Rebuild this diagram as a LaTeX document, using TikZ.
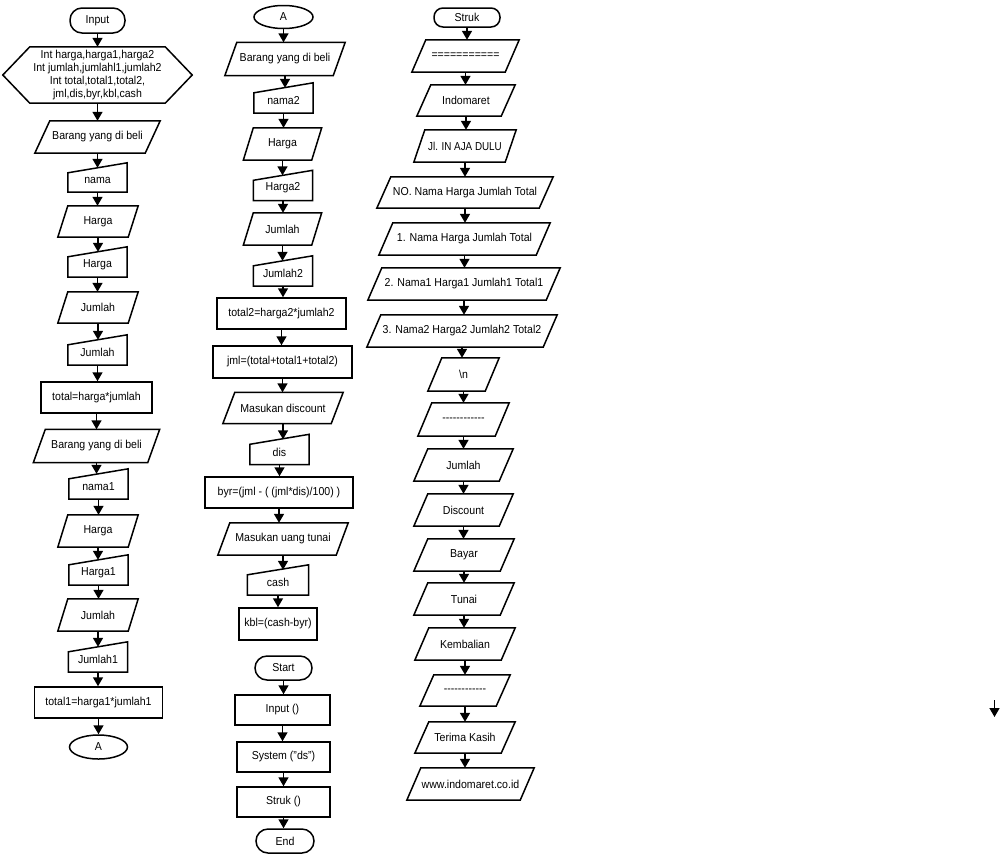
\documentclass[tikz,border=0pt]{standalone}
\usepackage{fontspec}
\setmainfont{Liberation Sans}[FakeStretch=0.92]
\usetikzlibrary{arrows.meta,shapes.geometric}
\tikzset{
  base/.style={inner sep=0pt, font=\fontsize{11.5}{13}\selectfont, align=center},
  shp/.style={line width=1.5pt, line join=miter},
  proc/.style={base, draw, line width=1.5pt},
  term/.style={base, draw, line width=1.5pt, rounded corners=12pt},
  conn/.style={base, draw, line width=1.5pt, ellipse},
  arr/.style={line width=1.5pt, -{Triangle[width=10pt,length=9pt]}},
}
\newcommand\Para[7][12]{%
  \node[base, minimum width=#5pt, minimum height=#6pt] (#2) at (#3,#4) {#7};
  \draw[shp] ([xshift=#1pt]#2.north west) -- (#2.north east) -- ([xshift=-#1pt]#2.south east) -- (#2.south west) -- cycle;}
\newcommand\Manual[6]{%
  \node[base, minimum width=#4pt, minimum height={(#5-5)*1pt}] (#1) at (#2,{#3+2.5}) {#6};
  \draw[shp] ([yshift=-5pt]#1.north west) -- ([yshift=5pt]#1.north east) -- (#1.south east) -- (#1.south west) -- cycle;}
\newcommand\Hexa[7]{%
  \node[base, minimum width=#4pt, minimum height=#5pt] (#1) at (#2,#3) {#7};
  \draw[shp] (#1.west) -- ([xshift=#6pt]#1.north west) -- ([xshift=-#6pt]#1.north east) -- (#1.east) -- ([xshift=-#6pt]#1.south east) -- ([xshift=#6pt]#1.south west) -- cycle;}
\newcommand\Arr[2]{\draw[arr] (#1.south) -- (#1.south |- #2.north);}
\newcommand\dd{-\kern0pt}
\newcommand\dashrow{\dd\dd\dd\dd\dd\dd\dd\dd\dd\dd\dd\dd}
\begin{document}
\begin{tikzpicture}[x=1pt,y=-1pt]
\useasboundingbox (0,0) rectangle (1000,857);
% ---------------- column 1
\node[term, minimum width=55pt, minimum height=25pt] (in1) at (97.5,20.5) {Input};
\Hexa{hex}{97.5}{75}{189}{56}{27}{Int harga,harga1,harga2\\Int jumlah,jumlahl1,jumlah2\\Int total,total1,total2,\\jml,dis,byr,kbl,cash}
\Para[15]{b1}{97.5}{137}{125}{32}{Barang yang di beli}
\Manual{nama}{97.5}{177.5}{59}{29}{nama}
\Para[10]{h1}{98}{221.5}{80}{31}{Harga}
\Manual{hm1}{97.5}{262}{59}{30}{Harga}
\Para[10]{j1}{98}{307.5}{80}{31}{Jumlah}
\Manual{jm1}{97.5}{350}{59}{30}{Jumlah}
\node[proc, minimum width=111pt, minimum height=31pt] (t1) at (96.5,397.5) {total=harga*jumlah};
\Para[12]{b2}{96.5}{446}{126}{33}{Barang yang di beli}
\Manual{nama1}{98.5}{484}{59}{30}{nama1}
\Para[10]{h2}{98}{531}{80}{32}{Harga}
\Manual{hm2}{98.5}{570}{59}{30}{Harga1}
\Para[10]{j2}{98}{615}{80}{32}{Jumlah}
\Manual{jm2}{98}{657}{59}{30}{Jumlah1}
\node[proc, minimum width=128pt, minimum height=31pt] (t1b) at (98.5,702.5) {total1=harga1*jumlah1};
\node[conn, minimum width=58pt, minimum height=24pt] (A1) at (98.5,747) {A};
\Arr{in1}{hex}\Arr{hex}{b1}\Arr{b1}{nama}\Arr{nama}{h1}\Arr{h1}{hm1}\Arr{hm1}{j1}\Arr{j1}{jm1}\Arr{jm1}{t1}
\Arr{t1}{b2}\Arr{b2}{nama1}\Arr{nama1}{h2}\Arr{h2}{hm2}\Arr{hm2}{j2}\Arr{j2}{jm2}\Arr{jm2}{t1b}\Arr{t1b}{A1}
% ---------------- column 2
\node[conn, minimum width=59pt, minimum height=23pt] (A2) at (283.5,17) {A};
\Para[12]{c2b}{285}{59}{120}{33}{Barang yang di beli}
\Manual{nama2}{283.5}{98}{59}{30}{nama2}
\Para[10]{ha2}{282.5}{144}{78}{32}{Harga}
\Manual{hm3}{283}{185.5}{59}{30}{Harga2}
\Para[10]{ja2}{282.5}{229}{78}{32}{Jumlah}
\Manual{jm3}{283}{271}{59}{30}{Jumlah2}
\node[proc, minimum width=129pt, minimum height=31pt] (t2) at (281.5,313.5) {total2=harga2*jumlah2};
\node[proc, minimum width=139pt, minimum height=32pt] (jml) at (282.5,362) {jml=(total+total1+total2)};
\Para[12]{md}{283}{408}{120}{31}{Masukan discount}
\Manual{dis}{279.5}{449.5}{59}{30}{dis}
\node[proc, minimum width=148pt, minimum height=31pt] (byr) at (279,492.5) {byr=(jml - ( (jml*dis)/100) )};
\Para[12]{mut}{283}{539}{130}{32}{Masukan uang tunai}
\Manual{cash}{278}{580}{61}{30}{cash}
\node[proc, minimum width=78pt, minimum height=32pt] (kbl) at (278,624) {kbl=(cash-byr)};
\Arr{A2}{c2b}\Arr{c2b}{nama2}\Arr{nama2}{ha2}\Arr{ha2}{hm3}\Arr{hm3}{ja2}\Arr{ja2}{jm3}\Arr{jm3}{t2}
\Arr{t2}{jml}\Arr{jml}{md}\Arr{md}{dis}\Arr{dis}{byr}\Arr{byr}{mut}\Arr{mut}{cash}\Arr{cash}{kbl}
% main
\node[term, minimum width=57pt, minimum height=24pt] (start) at (283.5,668) {Start};
\node[proc, minimum width=95pt, minimum height=30pt] (inp) at (282.5,710) {Input ()};
\node[proc, minimum width=93pt, minimum height=30pt] (sys) at (283.5,757) {System ("ds")};
\node[proc, minimum width=93pt, minimum height=30pt] (stk) at (283.5,802) {Struk ()};
\node[term, minimum width=58pt, minimum height=24pt] (end) at (285,841) {End};
\Arr{start}{inp}\Arr{inp}{sys}\Arr{sys}{stk}\Arr{stk}{end}
% ---------------- column 3
\node[term, rounded corners=9pt, minimum width=66pt, minimum height=19pt] (struk) at (467,17.5) {Struk};
\Para[14]{eq}{465.5}{56}{107}{32}{===========}
\Para[14]{ind}{466}{100.5}{98}{31}{Indomaret}
\Para[11]{jl}{465}{146}{102}{32}{\scalebox{0.93}[1]{Jl. IN AJA DULU}}
\Para[14]{no}{465}{192.5}{176}{31}{NO. Nama Harga Jumlah Total}
\Para[14]{n1}{464.5}{239}{171}{32}{1. Nama Harga Jumlah Total}
\Para[14]{n2}{464}{284}{192}{32}{2. Nama1 Harga1 Jumlah1 Total1}
\Para[14]{n3}{462}{331}{190}{32}{3. Nama2 Harga2 Jumlah2 Total2}
\Para[14]{nl}{463.5}{374.5}{71}{33}{\textbackslash n}
\Para[14]{d1}{463.5}{419.5}{91}{33}{\dashrow}
\Para[14]{jum}{463.5}{465}{99}{32}{Jumlah}
\Para[14]{disc}{463.5}{510}{99}{32}{Discount}
\Para[14]{bay}{464}{555}{100}{32}{Bayar}
\Para[14]{tun}{464}{599}{100}{32}{Tunai}
\Para[14]{kem}{465}{644}{100}{32}{Kembalian}
\Para[14]{d2}{465}{690.5}{90}{31}{\dashrow}
\Para[14]{ter}{465}{737.5}{100}{31}{Terima Kasih}
\Para[14]{www}{470.5}{784}{127}{32}{www.indomaret.co.id}
\Arr{struk}{eq}\Arr{eq}{ind}\Arr{ind}{jl}\Arr{jl}{no}\Arr{no}{n1}\Arr{n1}{n2}\Arr{n2}{n3}\Arr{n3}{nl}
\Arr{nl}{d1}\Arr{d1}{jum}\Arr{jum}{disc}\Arr{disc}{bay}\Arr{bay}{tun}\Arr{tun}{kem}\Arr{kem}{d2}\Arr{d2}{ter}\Arr{ter}{www}
% stray arrow
\coordinate (s1) at (994.5,700);
\coordinate (s2) at (994.5,717);
\draw[arr] (s1) -- (s2);
\end{tikzpicture}
\end{document}
